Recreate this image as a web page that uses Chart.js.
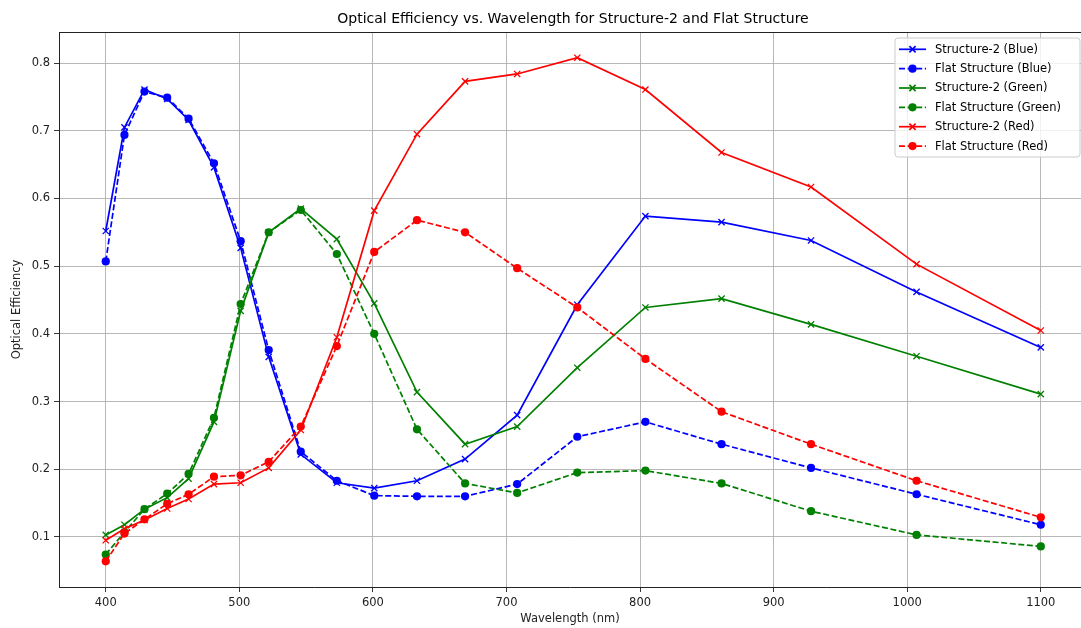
<!DOCTYPE html>
<html>
<head>
<meta charset="utf-8">
<script src="https://cdn.jsdelivr.net/npm/chart.js@4"></script>
<style>
    html, body { margin: 0; padding: 0; background: #fff; overflow: hidden; }
    #wrap { width: 1081px; height: 628px; position: relative; }
</style>
</head>
<body>
<div id="wrap"><canvas id="chart" width="1081" height="628"></canvas></div>
<script>
const wavelengths = [400, 414, 429, 446, 462, 481, 501, 522, 546, 573, 601, 633, 669, 708, 753, 804, 861, 928, 1007, 1100];

const s2Blue = [0.552, 0.705, 0.761, 0.747, 0.716, 0.646, 0.527, 0.366, 0.222, 0.180, 0.172, 0.183, 0.215, 0.280, 0.443, 0.574, 0.565, 0.538, 0.462, 0.380];
const flatBlue = [0.507, 0.694, 0.758, 0.749, 0.718, 0.652, 0.537, 0.376, 0.226, 0.183, 0.161, 0.160, 0.160, 0.178, 0.248, 0.270, 0.237, 0.202, 0.163, 0.118];
const s2Green = [0.103, 0.118, 0.141, 0.158, 0.186, 0.270, 0.434, 0.550, 0.585, 0.540, 0.445, 0.314, 0.237, 0.263, 0.350, 0.439, 0.452, 0.414, 0.367, 0.311];
const flatGreen = [0.074, 0.107, 0.141, 0.164, 0.193, 0.276, 0.444, 0.550, 0.583, 0.518, 0.400, 0.259, 0.179, 0.165, 0.195, 0.198, 0.179, 0.138, 0.103, 0.086];
const s2Red = [0.095, 0.112, 0.125, 0.142, 0.156, 0.178, 0.180, 0.202, 0.258, 0.395, 0.582, 0.695, 0.773, 0.784, 0.808, 0.761, 0.668, 0.617, 0.503, 0.405];
const flatRed = [0.064, 0.105, 0.126, 0.149, 0.163, 0.189, 0.191, 0.211, 0.263, 0.382, 0.521, 0.568, 0.550, 0.497, 0.439, 0.363, 0.285, 0.237, 0.183, 0.129];

const seriesNames = ['Structure-2 (Blue)', 'Flat Structure (Blue)', 'Structure-2 (Green)', 'Flat Structure (Green)', 'Structure-2 (Red)', 'Flat Structure (Red)'];
const xTicks = [400, 500, 600, 700, 800, 900, 1000, 1100];
const yTicks = [0.1, 0.2, 0.3, 0.4, 0.5, 0.6, 0.7, 0.8];
const titleText = 'Optical Efficiency vs. Wavelength for Structure-2 and Flat Structure';

const FONT = "'DejaVu Sans', sans-serif";
const seriesValues = [s2Blue, flatBlue, s2Green, flatGreen, s2Red, flatRed];
const colors = ['#0000ff', '#0000ff', '#008000', '#008000', '#ff0000', '#ff0000'];

const datasets = seriesValues.map((vals, i) => {
    const flat = i % 2 === 1;
    return {
        label: seriesNames[i],
        data: vals.map((v, j) => ({x: wavelengths[j], y: v})),
        borderColor: colors[i],
        backgroundColor: colors[i],
        borderWidth: 1.7,
        borderDash: flat ? [6, 2.6] : [],
        pointStyle: flat ? 'circle' : 'crossRot',
        pointRadius: flat ? 4.1 : 4.4,
        pointBorderWidth: flat ? 0 : 1.3,
        pointBackgroundColor: colors[i],
        pointBorderColor: colors[i],
        tension: 0,
        order: 5 - i
    };
});

// top spine + title centred over the axes, like matplotlib
// (the right spine of the original falls just past the picture's edge)
const frame = {
    id: 'frame',
    afterDatasetsDraw(chart) {
        const {ctx, chartArea: a} = chart;
        ctx.save();
        ctx.strokeStyle = '#222';
        ctx.lineWidth = 1;
        ctx.beginPath();
        ctx.moveTo(a.left, a.top + 0.5);
        ctx.lineTo(a.right, a.top + 0.5);
        ctx.stroke();
        ctx.fillStyle = '#000';
        ctx.font = '14px ' + FONT;
        ctx.textAlign = 'center';
        ctx.textBaseline = 'middle';
        ctx.fillText(titleText, (a.left + 1087) / 2, 19);
        ctx.restore();
    }
};

// matplotlib-like legend drawn inside the plot area, upper right
const innerLegend = {
    id: 'innerLegend',
    afterDraw(chart) {
        const ctx = chart.ctx;
        const x0 = 895, y0 = 38, w = 185, h = 119;
        ctx.save();
        ctx.beginPath();
        ctx.roundRect(x0, y0, w, h, 3);
        ctx.fillStyle = 'rgba(255,255,255,0.8)';
        ctx.fill();
        ctx.strokeStyle = '#cccccc';
        ctx.lineWidth = 1;
        ctx.stroke();
        ctx.font = '11.5px ' + FONT;
        ctx.textBaseline = 'middle';
        chart.data.datasets.forEach((ds, i) => {
            const cy = 49.3 + i * 19.35;
            ctx.strokeStyle = ds.borderColor;
            ctx.lineWidth = ds.borderWidth;
            ctx.setLineDash(ds.borderDash);
            ctx.beginPath();
            ctx.moveTo(899, cy);
            ctx.lineTo(926, cy);
            ctx.stroke();
            ctx.setLineDash([]);
            ctx.fillStyle = ds.borderColor;
            if (ds.pointStyle === 'circle') {
                ctx.beginPath();
                ctx.arc(912.5, cy, ds.pointRadius, 0, Math.PI * 2);
                ctx.fill();
            } else {
                Chart.helpers.drawPoint(ctx, {
                    pointStyle: ds.pointStyle,
                    radius: ds.pointRadius,
                    borderWidth: ds.pointBorderWidth,
                    rotation: 0
                }, 912.5, cy);
            }
            ctx.fillStyle = '#000';
            ctx.fillText(ds.label, 935, cy + 0.5);
        });
        ctx.restore();
    }
};

new Chart(document.getElementById('chart'), {
    type: 'line',
    data: {datasets: datasets},
    options: {
        responsive: false,
        animation: false,
        layout: {autoPadding: false, padding: {left: 0, right: 0, top: 32, bottom: 0}},
        plugins: {
            legend: {display: false},
            tooltip: {enabled: false},
            title: {display: false}
        },
        scales: {
            x: {
                type: 'linear',
                min: 365,
                max: 1130.1,
                afterBuildTicks: s => { s.ticks = xTicks.map(v => ({value: v})); },
                afterFit: s => { s.height = 41; },
                grid: {color: '#b0b0b0', lineWidth: 0.9, tickLength: 5, tickColor: '#222'},
                border: {color: '#222', width: 1},
                ticks: {color: '#222', padding: 4, maxRotation: 0, font: {family: FONT, size: 11.5}, callback: v => String(v)},
                title: {display: true, text: 'Wavelength (nm)', color: '#222', font: {family: FONT, size: 11.5}, padding: {top: 0, bottom: 2}}
            },
            y: {
                type: 'linear',
                min: 0.026,
                max: 0.846,
                afterBuildTicks: s => { s.ticks = yTicks.map(v => ({value: v})); },
                afterFit: s => { s.width = 59; },
                grid: {color: '#b0b0b0', lineWidth: 0.9, tickLength: 5, tickColor: '#222'},
                border: {color: '#222', width: 1},
                ticks: {color: '#222', padding: 4, font: {family: FONT, size: 11.5}, callback: v => v.toFixed(1)},
                title: {display: true, text: 'Optical Efficiency', color: '#222', font: {family: FONT, size: 11.5}, padding: {top: 10, bottom: 0}}
            }
        }
    },
    plugins: [frame, innerLegend]
});
</script>
</body>
</html>
